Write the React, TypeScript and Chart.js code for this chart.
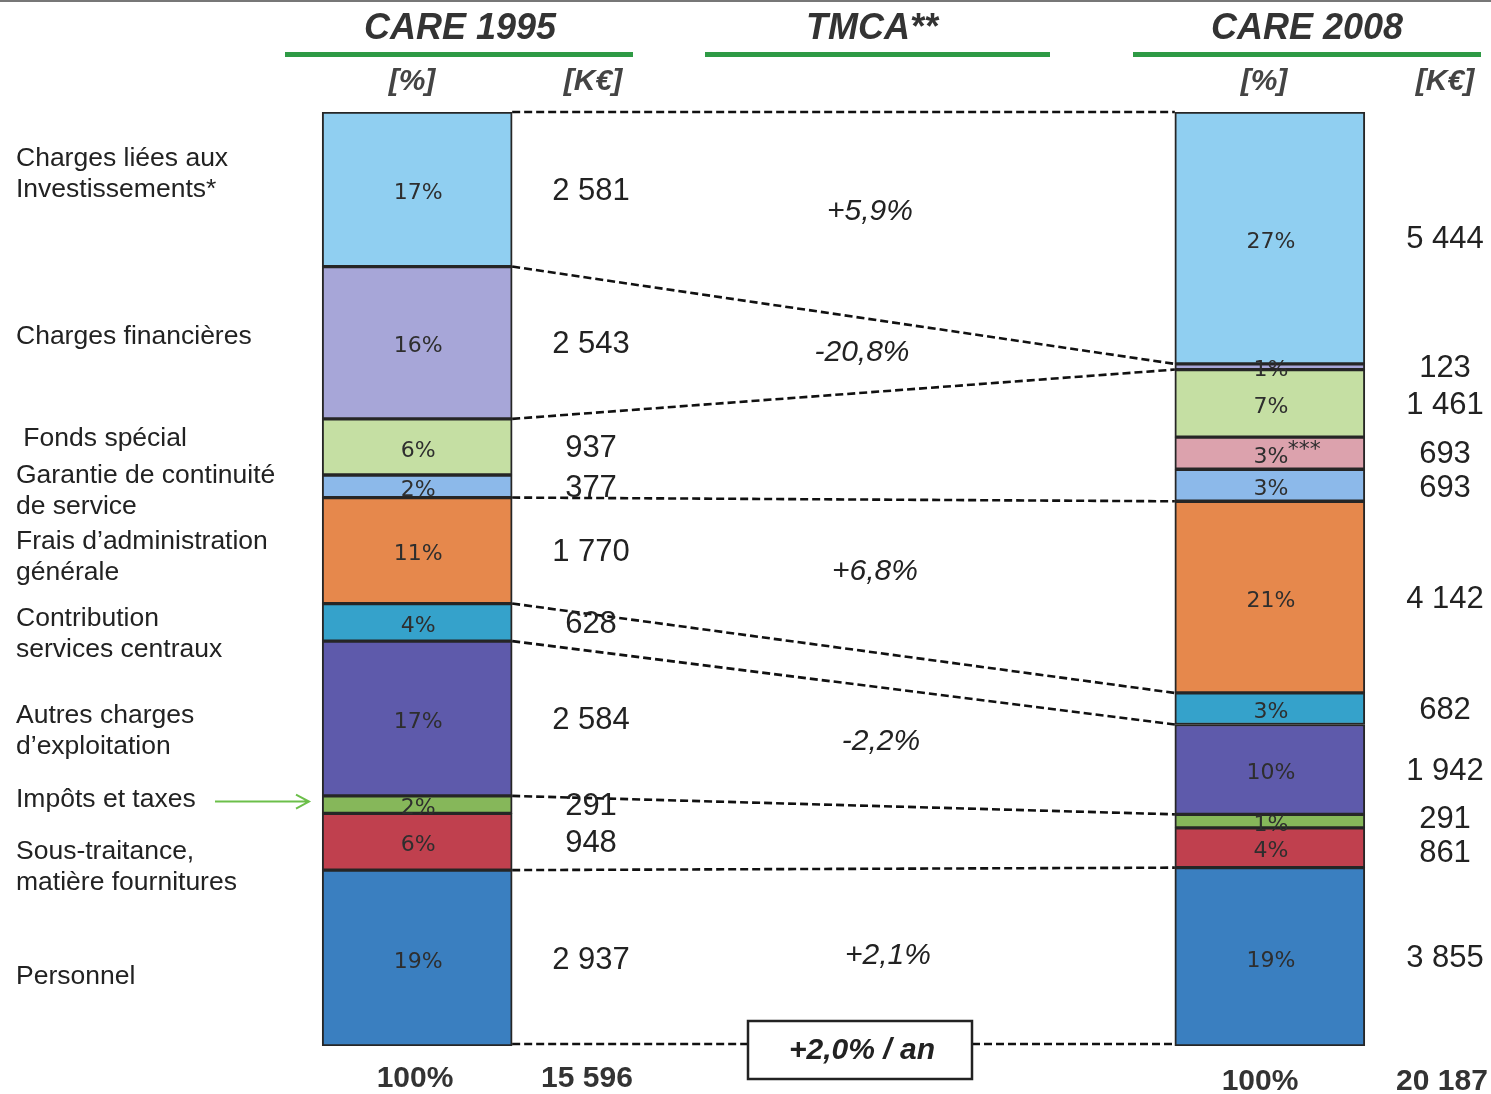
import React, { useEffect, useRef } from "react";
import { Chart, registerables } from "chart.js";

Chart.register(...registerables);

// ---- Data (bottom-up stacking order) ----
const categories = [
  "Personnel",
  "Sous-traitance, matière fournitures",
  "Impôts et taxes",
  "Autres charges d’exploitation",
  "Contribution services centraux",
  "Frais d’administration générale",
  "Garantie de continuité de service",
  "***",
  "Fonds spécial",
  "Charges financières",
  "Charges liées aux Investissements*",
];
const labelLines: string[][] = [
  ["Personnel"],
  ["Sous-traitance,", "matière fournitures"],
  ["Impôts et taxes"],
  ["Autres charges", "d’exploitation"],
  ["Contribution", "services centraux"],
  ["Frais d’administration", "générale"],
  ["Garantie de continuité", "de service"],
  [],
  [" Fonds spécial"],
  ["Charges financières"],
  ["Charges liées aux", "Investissements*"],
];
const values1995 = [2937, 948, 291, 2584, 628, 1770, 377, 0, 937, 2543, 2581];
const values2008 = [3855, 861, 291, 1942, 682, 4142, 693, 693, 1461, 123, 5444];
const colors = [
  "#3a7fc0",
  "#c0404e",
  "#86b75a",
  "#5e5aab",
  "#35a2cb",
  "#e6884c",
  "#8cb9ea",
  "#dca2ad",
  "#c5dfa3",
  "#a7a6d8",
  "#90cff1",
];
const headers = ["CARE 1995", "TMCA**", "CARE 2008"];
const tmcaCategories = [10, 9, 5, 3, 0];
const tmcaLabels = ["+5,9%", "-20,8%", "+6,8%", "-2,2%", "+2,1%"];
const tmcaTotal = "+2,0% / an";
// boundaries (top of dataset k) joined by dashed connectors
const connectorBoundaries = [0, 2, 3, 4, 5, 8, 9, 10];
// small vertical nudges (px) of left-hand labels relative to their 1995 segment
const labelNudges = [19, 25, -5, 13, 12, 7, 5, 0, -8, -6, -15];

const total1995 = values1995.reduce((a, b) => a + b, 0);
const total2008 = values2008.reduce((a, b) => a + b, 0);
const pct1995 = values1995.map((v) => (v / total1995) * 100);
const pct2008 = values2008.map((v) => (v / total2008) * 100);

const fmt = (n: number) => String(n).replace(/\B(?=(\d{3})+(?!\d))/g, " ");

const SANS = "'Liberation Sans', Arial, sans-serif";
const PCT_FONT = "'DejaVu Sans', Verdana, sans-serif";

function spread(centers: number[], minGap: number): number[] {
  const ys = centers.slice();
  for (let it = 0; it < 20; it++) {
    for (let i = 1; i < ys.length; i++) {
      const gap = ys[i] - ys[i - 1];
      if (gap < minGap) {
        const d = (minGap - gap) / 2;
        ys[i - 1] -= d;
        ys[i] += d;
      }
    }
  }
  return ys;
}

const overlay = {
  id: "overlay",
  afterDatasetsDraw(chart: any) {
    const ctx: CanvasRenderingContext2D = chart.ctx;
    const seg = (i: number, idx: number) => {
      const el = chart.getDatasetMeta(i).data[idx];
      return {
        x: el.x,
        top: Math.min(el.y, el.base),
        bottom: Math.max(el.y, el.base),
        w: el.width,
      };
    };
    const n = categories.length;
    const b1 = seg(0, 0);
    const b2 = seg(0, 2);
    const x1r = b1.x + b1.w / 2;
    const x2l = b2.x - b2.w / 2;

    ctx.save();
    // top frame line
    ctx.fillStyle = "#777";
    ctx.fillRect(0, 0, chart.width, 2);

    // headers
    const headerX = [460, 872, 1307];
    const lineRanges = [
      [285, 633],
      [705, 1050],
      [1133, 1481],
    ];
    ctx.textAlign = "center";
    ctx.textBaseline = "middle";
    headers.forEach((h, i) => {
      ctx.font = `italic bold 36px ${SANS}`;
      ctx.fillStyle = "#333";
      ctx.fillText(h, headerX[i], 29);
      ctx.fillStyle = "#2e9a45";
      ctx.fillRect(lineRanges[i][0], 52, lineRanges[i][1] - lineRanges[i][0], 5);
    });
    ctx.font = `italic bold 30px ${SANS}`;
    ctx.fillStyle = "#444";
    ctx.fillText("[%]", 412, 82);
    ctx.fillText("[K€]", 593, 82);
    ctx.fillText("[%]", 1264, 82);
    ctx.fillText("[K€]", 1445, 82);

    // dashed connectors
    ctx.strokeStyle = "#111";
    ctx.lineWidth = 2.6;
    ctx.setLineDash([8, 4]);
    connectorBoundaries.forEach((k) => {
      const yA = seg(k, 0).top;
      const yB = seg(k, 2).top;
      ctx.beginPath();
      ctx.moveTo(x1r, yA);
      ctx.lineTo(x2l, yB);
      ctx.stroke();
    });
    // bottom connector with total box
    const boxW = 224;
    const boxH = 58;
    const boxCx = 860;
    const yBot1 = b1.bottom - 2;
    const yBot2 = b2.bottom - 2;
    ctx.beginPath();
    ctx.moveTo(x1r, yBot1);
    ctx.lineTo(boxCx - boxW / 2, yBot1);
    ctx.moveTo(boxCx + boxW / 2, yBot2);
    ctx.lineTo(x2l, yBot2);
    ctx.stroke();
    ctx.setLineDash([]);
    ctx.fillStyle = "#fff";
    const boxTop = yBot1 - 23;
    ctx.fillRect(boxCx - boxW / 2, boxTop, boxW, boxH);
    ctx.lineWidth = 2.5;
    ctx.strokeStyle = "#222";
    ctx.strokeRect(boxCx - boxW / 2, boxTop, boxW, boxH);
    ctx.fillStyle = "#222";
    ctx.font = `italic bold 30px ${SANS}`;
    ctx.fillText(tmcaTotal, boxCx + 2, boxTop + boxH / 2 + 1);

    // percentage labels inside bars
    ctx.font = `22px ${PCT_FONT}`;
    ctx.fillStyle = "#2e2e2e";
    for (let i = 0; i < n; i++) {
      [
        [0, pct1995[i]],
        [2, pct2008[i]],
      ].forEach(([idx, p]) => {
        if (!p) return;
        const s = seg(i, idx);
        const cy = (s.top + s.bottom) / 2 + 4;
        const txt = Math.round(p) + "%";
        ctx.fillText(txt, s.x + 1, cy);
        if (categories[i] === "***") {
          const w = ctx.measureText(txt).width;
          ctx.fillText("***", s.x + w / 2 + 17, cy - 7);
        }
      });
    }

    // K€ value labels
    ctx.font = `31px ${SANS}`;
    ctx.fillStyle = "#222";
    const drawValues = (idx: number, vals: number[], x: number) => {
      const items: { y: number; t: string }[] = [];
      for (let i = n - 1; i >= 0; i--) {
        if (!vals[i]) continue;
        const s = seg(i, idx);
        items.push({ y: (s.top + s.bottom) / 2 + 2, t: fmt(vals[i]) });
      }
      const ys = spread(
        items.map((it) => it.y),
        34
      );
      items.forEach((it, j) => ctx.fillText(it.t, x, ys[j]));
    };
    drawValues(0, values1995, 591);
    drawValues(2, values2008, 1445);

    // left category labels
    ctx.textAlign = "left";
    ctx.font = `26.5px ${SANS}`;
    ctx.fillStyle = "#222";
    for (let i = 0; i < n; i++) {
      const lines = labelLines[i];
      if (!lines.length) continue;
      const s = seg(i, 0);
      const c = (s.top + s.bottom) / 2 + labelNudges[i];
      const lh = 31;
      lines.forEach((ln, j) => {
        ctx.fillText(ln, 16, c + (j - (lines.length - 1) / 2) * lh);
      });
    }

    // arrow for Impôts et taxes
    const sImp = seg(2, 0);
    const ay = (sImp.top + sImp.bottom) / 2 - 3;
    ctx.strokeStyle = "#6cbf4a";
    ctx.lineWidth = 2;
    ctx.beginPath();
    ctx.moveTo(215, ay);
    ctx.lineTo(309, ay);
    ctx.moveTo(296, ay - 7);
    ctx.lineTo(309, ay);
    ctx.lineTo(296, ay + 7);
    ctx.stroke();

    // TMCA labels
    ctx.textAlign = "center";
    ctx.font = `italic 30px ${SANS}`;
    ctx.fillStyle = "#222";
    const tmcaX = [870, 862, 875, 881, 888];
    tmcaCategories.forEach((k, j) => {
      const s1 = seg(k, 0);
      const s2 = seg(k, 2);
      const y = ((s1.top + s1.bottom) / 2 + (s2.top + s2.bottom) / 2) / 2 - 2;
      ctx.fillText(tmcaLabels[j], tmcaX[j], y);
    });

    // footer totals
    ctx.font = `bold 30px ${SANS}`;
    ctx.fillStyle = "#333";
    ctx.fillText("100%", 415, 1079);
    ctx.fillText(fmt(total1995), 587, 1079);
    ctx.fillText("100%", 1260, 1082);
    ctx.fillText(fmt(total2008), 1442, 1082);

    ctx.restore();
  },
};

export default function App() {
  const ref = useRef<HTMLCanvasElement>(null);
  useEffect(() => {
    if (!ref.current) return;
    const chart = new Chart(ref.current, {
      type: "bar",
      data: {
        labels: headers,
        datasets: categories.map((c, i) => ({
          label: c,
          data: [pct1995[i], null, pct2008[i]],
          backgroundColor: colors[i],
          borderColor: "#262626",
          borderWidth: 2,
          borderSkipped: false,
          barThickness: 190,
        })),
      },
      options: {
        animation: false,
        responsive: false,
        devicePixelRatio: 1,
        layout: { padding: { left: 204, right: 8, top: 112, bottom: 48 } },
        plugins: {
          legend: { display: false },
          tooltip: { enabled: false },
        },
        scales: {
          x: { stacked: true, display: false },
          y: { stacked: true, display: false, min: 0, max: 100 },
        },
      },
      plugins: [overlay],
    });
    return () => chart.destroy();
  }, []);
  return (
    <div
      style={{
        position: "fixed",
        left: 0,
        top: 0,
        width: 1491,
        height: 1094,
        background: "#fff",
      }}
    >
      <canvas ref={ref} width={1491} height={1094} />
    </div>
  );
}
